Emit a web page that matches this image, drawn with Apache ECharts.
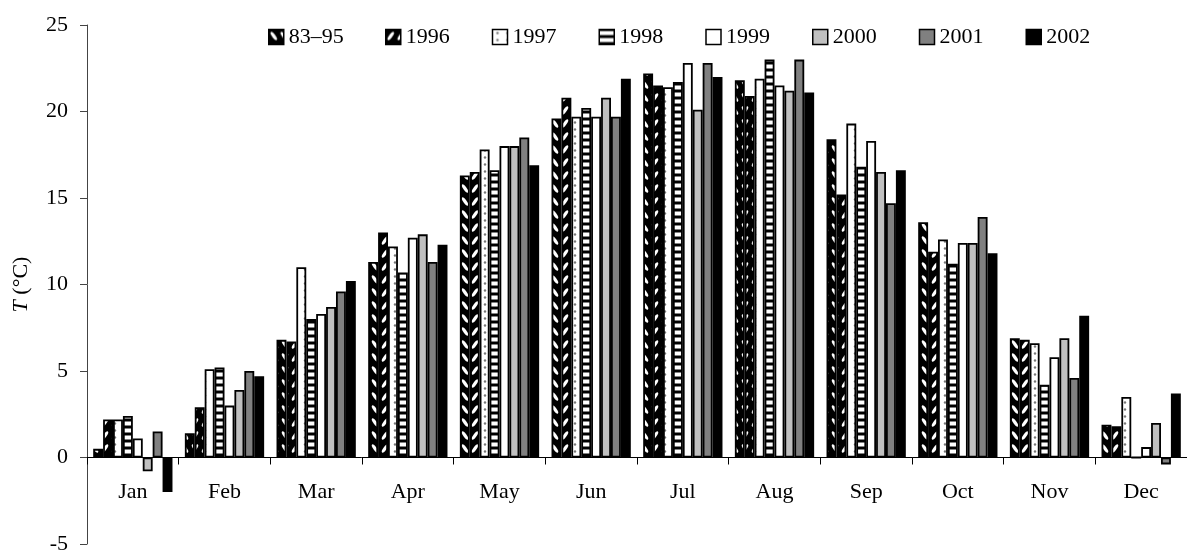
<!DOCTYPE html>
<html>
<head>
<meta charset="utf-8">
<script src="https://cdn.jsdelivr.net/npm/echarts@6/dist/echarts.min.js"></script>
<style>
  html, body { margin: 0; padding: 0; background: #fff; }
  #chart { width: 1187px; height: 552px; }
</style>
</head>
<body>
<div id="chart"></div>
<script>
var months = ['Jan', 'Feb', 'Mar', 'Apr', 'May', 'Jun', 'Jul', 'Aug', 'Sep', 'Oct', 'Nov', 'Dec'];
var yTicks = [-5, 0, 5, 10, 15, 20, 25];

var t8395 = [0.5, 1.4, 6.8, 11.3, 16.3, 19.6, 22.2, 21.8, 18.4, 13.6, 6.9, 1.9];
var t1996 = [2.2, 2.9, 6.7, 13.0, 16.5, 20.8, 21.5, 20.9, 15.2, 11.9, 6.8, 1.8];
var t1997 = [2.2, 5.1, 11.0, 12.2, 17.8, 19.7, 21.4, 21.9, 19.3, 12.6, 6.6, 3.5];
var t1998 = [2.4, 5.2, 8.0, 10.7, 16.6, 20.2, 21.7, 23.0, 16.8, 11.2, 4.2, 0];
var t1999 = [1.1, 3.0, 8.3, 12.7, 18.0, 19.7, 22.8, 21.5, 18.3, 12.4, 5.8, 0.6];
var t2000 = [-0.8, 3.9, 8.7, 12.9, 18.0, 20.8, 20.1, 21.2, 16.5, 12.4, 6.9, 2.0];
var t2001 = [1.5, 5.0, 9.6, 11.3, 18.5, 19.7, 22.8, 23.0, 14.7, 13.9, 4.6, -0.4];
var t2002 = [-2.0, 4.7, 10.2, 12.3, 16.9, 21.9, 22.0, 21.1, 16.6, 11.8, 8.2, 3.7];

var FONT = "'Liberation Serif', 'Times New Roman', serif";
var GRID_TOP = 25, GRID_BOTTOM = 8, H = 552;

// small canvas tiles used as bar fills
function tile(w, h, draw) {
    var c = document.createElement('canvas');
    c.width = w;
    c.height = h;
    draw(c.getContext('2d'), w, h);
    return {image: c, repeat: 'repeat'};
}
function leaf(dir) {
    return tile(10, 13, function (ctx, w, h) {
        ctx.fillStyle = '#000';
        ctx.fillRect(0, 0, w, h);
        ctx.fillStyle = '#fff';
        ctx.save();
        ctx.translate(w / 2, h / 2);
        ctx.rotate(dir * Math.PI * 0.3);
        ctx.beginPath();
        ctx.ellipse(0, 0, 5, 1.6, 0, 0, Math.PI * 2);
        ctx.fill();
        ctx.restore();
    });
}
var fillBack = leaf(1);
var fillFwd = leaf(-1);
var fillDots = tile(10, 7, function (ctx, w, h) {
    ctx.fillStyle = '#fff';
    ctx.fillRect(0, 0, w, h);
    ctx.fillStyle = '#777';
    ctx.beginPath();
    ctx.arc(5, 3.5, 1.2, 0, Math.PI * 2);
    ctx.fill();
});
var fillStripes = tile(4, 7, function (ctx, w, h) {
    ctx.fillStyle = '#000';
    ctx.fillRect(0, 0, w, h);
    ctx.fillStyle = '#fff';
    ctx.fillRect(0, 1.5, w, 4);
});

function bar(name, data, fill) {
    return {
        name: name,
        type: 'bar',
        data: data,
        barGap: '0%',
        barCategoryGap: '13.5%',
        itemStyle: {color: fill, borderColor: '#000', borderWidth: 1.8},
        emphasis: {disabled: true}
    };
}

// move the category axis (line, ticks, labels) up to the zero level
var yMin = yTicks[0], yMax = yTicks[yTicks.length - 1];
var plotH = H - GRID_TOP - GRID_BOTTOM;
var zeroOffset = -plotH * (0 - yMin) / (yMax - yMin);

var legendText = {fontFamily: FONT, fontSize: 22, color: '#000'};
var legendItem = {borderWidth: 1.5, borderColor: '#000'};

var chart = echarts.init(document.getElementById('chart'), null, {renderer: 'canvas'});
chart.setOption({
    animation: false,
    textStyle: {fontFamily: FONT, color: '#000'},
    grid: {left: 87, right: 0, top: GRID_TOP, bottom: GRID_BOTTOM, containLabel: false, outerBoundsMode: 'none'},
    legend: [{
        left: 263, top: 21, icon: 'rect',
        itemWidth: 15, itemHeight: 15, itemGap: 42,
        itemStyle: legendItem,
        textStyle: legendText,
        data: ['83–95']
    }, {
        left: 380, top: 21, icon: 'rect',
        itemWidth: 15, itemHeight: 15, itemGap: 42,
        itemStyle: legendItem,
        textStyle: legendText,
        data: ['1996', '1997', '1998', '1999', '2000', '2001', '2002']
    }],
    xAxis: {
        type: 'category',
        data: months,
        position: 'bottom',
        offset: zeroOffset,
        axisLine: {onZero: false, lineStyle: {color: '#000', width: 1}},
        axisTick: {show: true, length: 7, lineStyle: {color: '#000'}},
        axisLabel: {fontFamily: FONT, fontSize: 22, color: '#000', margin: 24},
        splitLine: {show: false}
    },
    yAxis: {
        type: 'value',
        min: yMin,
        max: yMax,
        interval: 5,
        name: '{i|T} (°C)',
        nameLocation: 'middle',
        nameGap: 55,
        nameTextStyle: {
            fontFamily: FONT, fontSize: 22, color: '#000',
            rich: {i: {fontFamily: FONT, fontSize: 22, fontStyle: 'italic', color: '#000'}}
        },
        axisLine: {show: true, lineStyle: {color: '#444', width: 1}},
        axisTick: {show: true, length: 7, lineStyle: {color: '#444'}},
        axisLabel: {fontFamily: FONT, fontSize: 22, color: '#000', margin: 19},
        splitLine: {show: false}
    },
    series: [
        bar('83–95', t8395, fillBack),
        bar('1996', t1996, fillFwd),
        bar('1997', t1997, fillDots),
        bar('1998', t1998, fillStripes),
        bar('1999', t1999, '#fff'),
        bar('2000', t2000, '#c0c0c0'),
        bar('2001', t2001, '#808080'),
        bar('2002', t2002, '#000')
    ]
});
</script>
</body>
</html>
